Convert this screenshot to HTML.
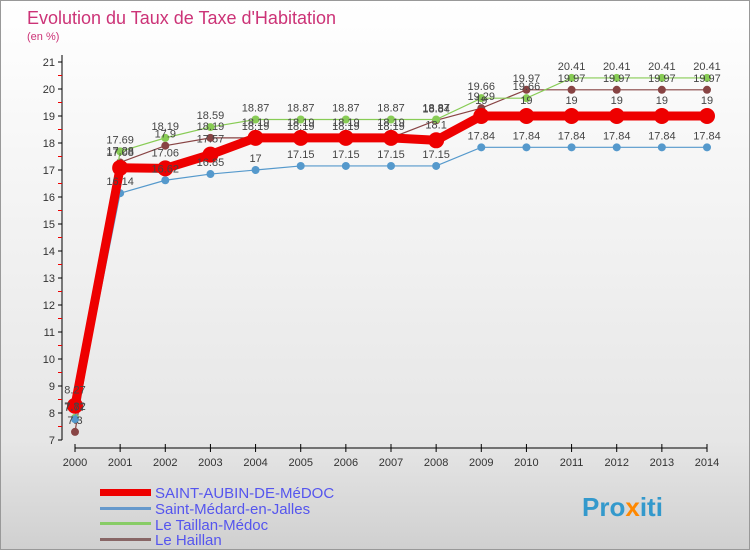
<!DOCTYPE html>
<html><head><meta charset="utf-8"><style>
body{margin:0;width:750px;height:550px;overflow:hidden;font-family:"Liberation Sans",sans-serif}
</style></head><body>
<svg id="c" width="750" height="550" xmlns="http://www.w3.org/2000/svg">
<defs><linearGradient id="bg" x1="0" y1="0" x2="0" y2="1"><stop offset="0" stop-color="#ffffff"/><stop offset="0.8" stop-color="#e6e6e6"/><stop offset="1" stop-color="#d0d0d0"/></linearGradient></defs>
<rect x="0.5" y="0.5" width="749" height="549" fill="url(#bg)" stroke="#999"/>
<text x="27" y="24" font-size="18" fill="#cc3377">Evolution du Taux de Taxe d'Habitation</text>
<text x="27" y="40" font-size="11" fill="#cc3377">(en %)</text>
<g id="axes"></g><g id="series"></g><g id="labels"></g>
<g font-size="15" fill="#5555ee">
<rect x="100" y="489" width="51" height="7" fill="#ee0000"/>
<text x="155" y="498">SAINT-AUBIN-DE-MéDOC</text>
<rect x="100" y="507" width="51" height="3" fill="#6699cc"/>
<text x="155" y="514">Saint-Médard-en-Jalles</text>
<rect x="100" y="522" width="51" height="3" fill="#88cc66"/>
<text x="155" y="530">Le Taillan-Médoc</text>
<rect x="100" y="538" width="51" height="3" fill="#886666"/>
<text x="155" y="545">Le Haillan</text>
</g>
<text x="582" y="516" font-size="26" font-weight="bold" fill="#3399cc">Pro<tspan fill="#ff8800">x</tspan>iti</text>
</svg>
<script>
const years=[2000,2001,2002,2003,2004,2005,2006,2007,2008,2009,2010,2011,2012,2013,2014];
const yTicks=[7,8,9,10,11,12,13,14,15,16,17,18,19,20,21];
const saintAubin=[8.27,17.08,17.06,17.57,18.19,18.19,18.19,18.19,18.1,19,19,19,19,19,19];
const saintMedard=[7.77,16.14,16.62,16.85,17,17.15,17.15,17.15,17.15,17.84,17.84,17.84,17.84,17.84,17.84];
const leTaillan=[7.82,17.69,18.19,18.59,18.87,18.87,18.87,18.87,18.87,19.66,19.66,20.41,20.41,20.41,20.41];
const leHaillan=[7.3,17.28,17.9,18.19,18.19,18.19,18.19,18.19,18.84,19.29,19.97,19.97,19.97,19.97,19.97];
const NS="http://www.w3.org/2000/svg";
const x=i=>75+i*(707-75)/(years.length-1);
const y=v=>440-(v-7)*(440-62)/14;
function mk(t,a,p){const e=document.createElementNS(NS,t);for(const k in a)e.setAttribute(k,a[k]);p.appendChild(e);return e;}
const ax=document.getElementById('axes');
mk('line',{x1:62,y1:55,x2:62,y2:440,stroke:'#000'},ax);
mk('line',{x1:75,y1:448,x2:707,y2:448,stroke:'#000'},ax);
yTicks.forEach(v=>{
 mk('line',{x1:58,y1:y(v),x2:62,y2:y(v),stroke:'#000'},ax);
 if(v<21) mk('line',{x1:58,y1:y(v+0.5),x2:62,y2:y(v+0.5),stroke:'#e00'},ax);
 const t=mk('text',{x:55,y:y(v)+4,'text-anchor':'end','font-size':11,fill:'#333'},ax);
 
 
 t.textContent=v;
});
years.forEach((yr,i)=>{
 mk('line',{x1:x(i),y1:444,x2:x(i),y2:452,stroke:'#000'},ax);
 const t=mk('text',{x:x(i),y:466,'text-anchor':'middle','font-size':11,fill:'#333'},ax);
 
 
 t.textContent=yr;
});
const sg=document.getElementById('series'),lg=document.getElementById('labels');
function draw(data,color,w,r,name,dy){
 const pl=mk('polyline',{points:data.map((v,i)=>x(i)+','+y(v)).join(' '),fill:'none',stroke:color,'stroke-width':w},sg);
 
 
 data.forEach((v,i)=>{
  const c=mk('circle',{cx:x(i),cy:y(v),r:r,fill:color},sg);
  
  
  const t=mk('text',{x:x(i),y:y(v)+dy,'text-anchor':'middle','font-size':11,fill:'#444'},lg);
  
  
  t.textContent=v;
 });
}
draw(leHaillan,'#884444',1.2,4,'le-haillan',-8);
draw(leTaillan,'#88cc55',1.2,4,'le-taillan',-8);
draw(saintMedard,'#5599cc',1.2,4,'saint-medard',-8);
draw(saintAubin,'#ee0000',9,8,'saint-aubin',-12);
</script>
</body></html>
